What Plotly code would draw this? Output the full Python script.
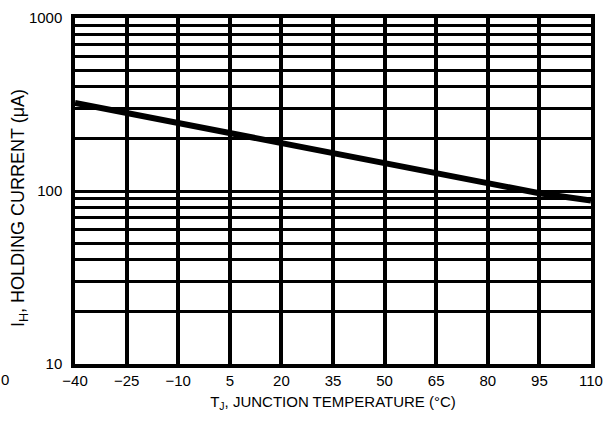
import plotly.graph_objects as go

temps = [-40, -25, -10, 5, 20, 35, 50, 65, 80, 95, 110]
holding_current = [323, 282, 247, 216, 189, 166, 145, 127, 110, 97, 88]

x_ticks = [-40, -25, -10, 5, 20, 35, 50, 65, 80, 95, 110]
x_labels = ["\u221240", "\u221225", "\u221210", "5", "20", "35", "50", "65", "80", "95", "110"]
y_ticks = [10, 20, 30, 40, 50, 60, 70, 80, 90, 100, 200, 300, 400, 500, 600, 700, 800, 900, 1000]
y_labels = ["10", "", "", "", "", "", "", "", "", "100", "", "", "", "", "", "", "", "", "1000"]

font_family = "Liberation Sans Narrow, Arial Narrow, Liberation Sans, Arial, sans-serif"

fig = go.Figure()
fig.add_trace(go.Scatter(x=temps, y=holding_current, mode="lines",
                         line=dict(color="black", width=6), showlegend=False))

fig.update_layout(
    width=613, height=428,
    margin=dict(l=75, r=22, t=18, b=64),
    paper_bgcolor="white", plot_bgcolor="white",
    font=dict(family=font_family, size=15, color="black"),
    xaxis=dict(range=[-40, 110], tickvals=x_ticks, ticktext=x_labels,
               showgrid=True, gridcolor="black", gridwidth=3.5,
               showline=True, linecolor="black", linewidth=3.5, mirror=True,
               ticks="", zeroline=False, tickfont=dict(size=15),
               automargin=False,
               title=dict(text="T<sub>J</sub>, JUNCTION TEMPERATURE (°C)", standoff=10,
                          font=dict(size=15))),
    yaxis=dict(type="log", range=[1, 3], tickvals=y_ticks, ticktext=y_labels,
               showgrid=True, gridcolor="black", gridwidth=2.5,
               showline=True, linecolor="black", linewidth=3.5, mirror=True,
               ticks="", zeroline=False, tickfont=dict(size=15),
               ticklabelstandoff=6, automargin=False),
)

# y-axis title (placed as annotation to match the reference position)
fig.add_annotation(text="I<sub>H</sub>, HOLDING CURRENT (μA)", xref="paper", yref="paper",
                   x=-0.107, y=0.45, textangle=-90, showarrow=False,
                   font=dict(size=18), xanchor="center", yanchor="middle")

fig.add_annotation(text="0", xref="paper", yref="paper", x=-0.136, y=-0.045,
                   showarrow=False, font=dict(size=15), xanchor="center", yanchor="middle")

fig.write_html("out.html", config={"displayModeBar": False},
               post_script="document.body.style.margin='0';document.body.style.overflow='hidden';")
